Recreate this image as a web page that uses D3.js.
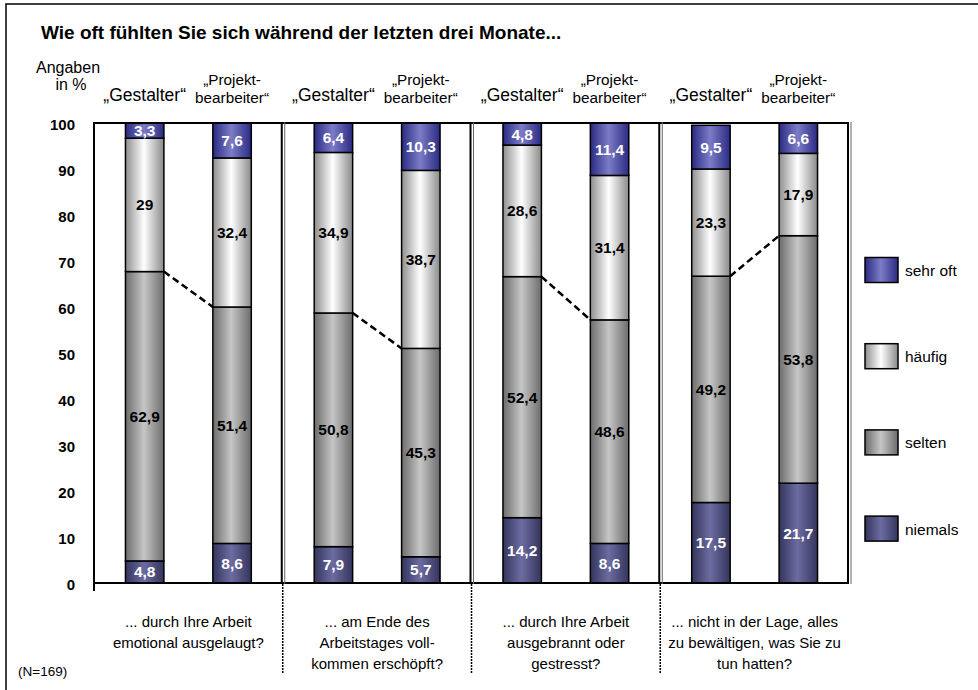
<!DOCTYPE html>
<html>
<head>
<meta charset="utf-8">
<script src="https://cdn.jsdelivr.net/npm/d3@7"></script>
<style>
body { margin: 0; background: #fff; }
svg { font-family: "Liberation Sans", Arial, sans-serif; }
</style>
</head>
<body>
<div id="canvas"></div>
<script>
// data
var questions = ["q1", "q2", "q3", "q4"];
var questionLabels = [
	["... durch Ihre Arbeit", "emotional ausgelaugt?"],
	["... am Ende des", "Arbeitstages voll-", "kommen erschöpft?"],
	["... durch Ihre Arbeit", "ausgebrannt oder", "gestresst?"],
	["... nicht in der Lage, alles", "zu bewältigen, was Sie zu", "tun hatten?"]
];
var groups = ["Gestalter", "Projektbearbeiter"];
var groupLabels = [["„Gestalter“"], ["„Projekt-", "bearbeiter“"]];
var categories = ["niemals", "selten", "häufig", "sehr oft"];

var niemals = [4.8, 8.6, 7.9, 5.7, 14.2, 8.6, 17.5, 21.7];
var selten = [62.9, 51.4, 50.8, 45.3, 52.4, 48.6, 49.2, 53.8];
var haeufig = [29, 32.4, 34.9, 38.7, 28.6, 31.4, 23.3, 17.9];
var sehrOft = [3.3, 7.6, 6.4, 10.3, 4.8, 11.4, 9.5, 6.6];
var yTicks = [0, 10, 20, 30, 40, 50, 60, 70, 80, 90, 100];

var series = [niemals, selten, haeufig, sehrOft];

// build rows
var rows = [];
questions.forEach(function (q, qi) {
	groups.forEach(function (g, gi) {
		var idx = qi * 2 + gi;
		var row = { q: q, g: g, idx: idx };
		categories.forEach(function (c, ci) { row[c] = series[ci][idx]; });
		rows.push(row);
	});
});

var stack = d3.stack().keys(categories)(rows);

var svg = d3.select('#canvas').append('svg').attr('width', 978).attr('height', 690);

var x0 = d3.scaleBand().domain(questions).range([94, 849]);
var x1 = d3.scaleBand().domain(groups).range([0, x0.bandwidth()]).paddingInner(0.56).paddingOuter(0.36);
var y = d3.scaleLinear().domain([0, 100]).range([583, 123]);

// gradients
var defs = svg.append('defs');
var grads = {
	"niemals": ["#34345c", "#6c6ca2", "#34345c"],
	"selten": ["#6c6c6c", "#c6c6c6", "#6c6c6c"],
	"häufig": ["#8e8e8e", "#ffffff", "#8a8a8a"],
	"sehr oft": ["#2a2a84", "#7c7cc6", "#2a2a84"]
};
categories.forEach(function (c, i) {
	var lg = defs.append('linearGradient').attr('id', 'g' + i).attr('x1', '0%').attr('x2', '100%').attr('y1', '0%').attr('y2', '0%');
	lg.append('stop').attr('offset', '0%').attr('stop-color', grads[c][0]);
	lg.append('stop').attr('offset', '48%').attr('stop-color', grads[c][1]);
	lg.append('stop').attr('offset', '100%').attr('stop-color', grads[c][2]);
});

// outer frame
svg.append('rect').attr('x', 6).attr('y', 4).attr('width', 1000).attr('height', 720)
	.attr('fill', 'none').attr('stroke', '#000').attr('stroke-width', 1.5);

svg.append('text').attr('x', 41).attr('y', 39).attr('font-size', 19).attr('font-weight', 'bold')
	.text('Wie oft fühlten Sie sich während der letzten drei Monate...');

svg.append('text').attr('x', 68).attr('y', 73).attr('font-size', 16).attr('text-anchor', 'middle').text('Angaben');
svg.append('text').attr('x', 71).attr('y', 90).attr('font-size', 16).attr('text-anchor', 'middle').text('in %');

// y axis labels
svg.selectAll('.ytick').data(yTicks).enter().append('text')
	.attr('x', 75).attr('y', function (d) { return y(d) + 7; })
	.attr('text-anchor', 'end').attr('font-size', 15).attr('font-weight', 'bold')
	.text(function (d) { return d; });

// group headers
questions.forEach(function (q) {
	groups.forEach(function (g, gi) {
		var cx = x0(q) + x1(g) + x1.bandwidth() / 2;
		var lines = groupLabels[gi];
		lines.forEach(function (t, li) {
			svg.append('text').attr('x', cx)
				.attr('y', lines.length == 1 ? 101 : 85 + li * 18)
				.attr('text-anchor', 'middle').attr('font-size', lines.length == 1 ? 17.5 : 15.3).text(t);
		});
	});
});

// bars
var layers = svg.selectAll('g.layer').data(stack).enter().append('g').attr('class', 'layer')
	.attr('fill', function (d, i) { return 'url(#g' + i + ')'; });

layers.selectAll('rect').data(function (d) { return d; }).enter().append('rect')
	.attr('x', function (d) { return x0(d.data.q) + x1(d.data.g); })
	.attr('width', x1.bandwidth())
	.attr('y', function (d) { return y(d[1]); })
	.attr('height', function (d) { return y(d[0]) - y(d[1]); })
	.attr('stroke', '#000').attr('stroke-width', 1.5);

layers.each(function (layer, i) {
	d3.select(this).selectAll('text').data(layer).enter().append('text')
		.attr('x', function (d) { return x0(d.data.q) + x1(d.data.g) + x1.bandwidth() / 2; })
		.attr('y', function (d) { return (y(d[0]) + y(d[1])) / 2 + 5.5; })
		.attr('text-anchor', 'middle').attr('font-size', 15.5).attr('font-weight', 'bold')
		.attr('fill', (i == 0 || i == 3) ? '#fff' : '#000')
		.text(function (d) { return String(d.data[categories[i]]).replace('.', ','); });
});

// dashed connectors (top of "selten")
var selStack = stack[1];
questions.forEach(function (q, qi) {
	var a = selStack[qi * 2], b = selStack[qi * 2 + 1];
	svg.append('line')
		.attr('x1', x0(q) + x1(groups[0]) + x1.bandwidth()).attr('y1', y(a[1]))
		.attr('x2', x0(q) + x1(groups[1])).attr('y2', y(b[1]))
		.attr('stroke', '#000').attr('stroke-width', 2.5).attr('stroke-dasharray', '7,4');
});

// plot frame
svg.append('line').attr('x1', 94).attr('x2', 849).attr('y1', 123).attr('y2', 123).attr('stroke', '#000').attr('stroke-width', 2);
svg.append('line').attr('x1', 94).attr('x2', 849).attr('y1', 583).attr('y2', 583).attr('stroke', '#000').attr('stroke-width', 2);
svg.append('line').attr('x1', 94).attr('x2', 94).attr('y1', 122).attr('y2', 591).attr('stroke', '#000').attr('stroke-width', 2);

// separators
var seps = questions.slice(1).map(function (q) { return x0(q); }).concat([849]);
seps.forEach(function (sx, i) {
	svg.append('line').attr('x1', sx - 1).attr('x2', sx - 1).attr('y1', 122).attr('y2', 584).attr('stroke', '#000').attr('stroke-width', 2);
	svg.append('line').attr('x1', sx + 2).attr('x2', sx + 2).attr('y1', 122).attr('y2', 584).attr('stroke', '#666').attr('stroke-width', 1);
	if (i < 3) {
		svg.append('line').attr('x1', sx).attr('x2', sx).attr('y1', 584).attr('y2', 674)
			.attr('stroke', '#000').attr('stroke-width', 1.5).attr('stroke-dasharray', '2,1');
	}
});

// question labels
questions.forEach(function (q, qi) {
	questionLabels[qi].forEach(function (t, li) {
		svg.append('text').attr('x', x0(q) + x0.bandwidth() / 2).attr('y', 627 + li * 21)
			.attr('text-anchor', 'middle').attr('font-size', 15).text(t);
	});
});

svg.append('text').attr('x', 18).attr('y', 676).attr('font-size', 13.5).text('(N=169)');

// legend
var legendOrder = categories.slice().reverse();
legendOrder.forEach(function (c, i) {
	var cy = 270 + i * 86.2;
	var ci = categories.indexOf(c);
	svg.append('rect').attr('x', 865).attr('y', cy - 12.5).attr('width', 33).attr('height', 25)
		.attr('fill', 'url(#g' + ci + ')').attr('stroke', '#000').attr('stroke-width', 1.5);
	svg.append('text').attr('x', 905).attr('y', cy + 6).attr('font-size', 15.5).text(c);
});
</script>
</body>
</html>
